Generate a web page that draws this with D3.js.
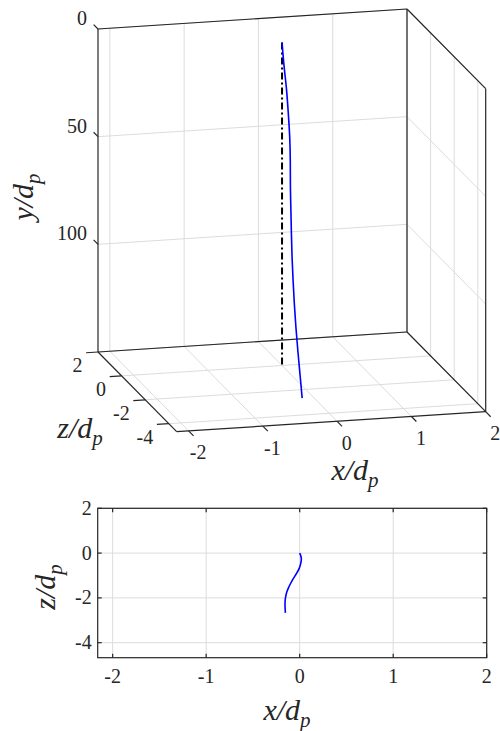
<!DOCTYPE html>
<html>
<head>
<meta charset="utf-8">
<script src="https://cdn.jsdelivr.net/npm/d3@7"></script>
<style>
  body { margin: 0; background: #fff; }
  svg { display: block; }
  .tick { font-family: "Liberation Serif", "DejaVu Serif", "Noto Serif", "FreeSerif", Times, serif; font-size: 20px; fill: #262626; }
  .axisText { font-family: "Liberation Serif", "DejaVu Serif", "Noto Serif", "FreeSerif", Times, serif; font-style: italic; font-size: 30px; fill: #262626; }
</style>
</head>
<body>
<div id="chart"></div>
<script>
// axis limits and ticks
var xLim = [-2.16, 2];
var yLim = [0, 150];
var zLim = [-4.67, 2];
var xTicks = [-2, -1, 0, 1, 2];
var yTicks = [0, 50, 100];
var yGrid = [0, 50, 100, 150];
var zTicks = [2, 0, -2, -4];

// particle trajectory
var trajY = [0, 10, 20, 30, 40, 50, 60, 70, 80, 90, 100, 110, 120, 130, 140, 150];
var trajZ = [0, -0.1, -0.26, -0.45, -0.68, -0.92, -1.15, -1.38, -1.55, -1.7, -1.85, -2.0, -2.16, -2.33, -2.5, -2.67];
var trajX = [0, 0.01, 0.018, 0.012, -0.005, -0.035, -0.07, -0.1, -0.12, -0.135, -0.145, -0.152, -0.156, -0.157, -0.155, -0.153];

// vertical reference line (dash-dot)
var refY = [0, 150];
var refX = [0, 0];
var refZ = [0, 0];

var svgWidth = 500, svgHeight = 731;
var axisColor = "#262626", gridColor = "#dcdcdc";

var svg = d3.select("#chart")
  .append("svg")
  .attr("width", svgWidth)
  .attr("height", svgHeight);

// ---------- 3D view (orthographic projection) ----------
var origin = [98, 29];       // screen point of (xMin, y=0, zMax)
var ex = [309, -20];         // full x range
var ey = [0, 323];           // full y range
var ez = [78.7, 79.7];       // zMax -> zMin

var tx = d3.scaleLinear().domain(xLim).range([0, 1]);
var ty = d3.scaleLinear().domain(yLim).range([0, 1]);
var tz = d3.scaleLinear().domain([zLim[1], zLim[0]]).range([0, 1]);

function proj(x, y, z) {
  var a = tx(x), b = ty(y), c = tz(z);
  return [origin[0] + a * ex[0] + b * ey[0] + c * ez[0],
          origin[1] + a * ex[1] + b * ey[1] + c * ez[1]];
}

var line3 = d3.line().x(d => proj(d[0], d[1], d[2])[0]).y(d => proj(d[0], d[1], d[2])[1]);

var g3 = svg.append("g");

function seg(g, p, q, color, w) {
  g.append("path")
    .attr("d", line3([p, q]))
    .attr("fill", "none")
    .attr("stroke", color)
    .attr("stroke-width", w);
}

var x0 = xLim[0], x1 = xLim[1], y0 = yLim[0], y1 = yLim[1], z0 = zLim[0], z1 = zLim[1];

// grid: back plane z = zMax
xTicks.forEach(function(x) { seg(g3, [x, y0, z1], [x, y1, z1], gridColor, 1); });
yGrid.forEach(function(y) { seg(g3, [x0, y, z1], [x1, y, z1], gridColor, 1); });
// grid: right plane x = xMax
zTicks.forEach(function(z) { seg(g3, [x1, y0, z], [x1, y1, z], gridColor, 1); });
yGrid.forEach(function(y) { seg(g3, [x1, y, z1], [x1, y, z0], gridColor, 1); });
// grid: floor y = yMax
xTicks.forEach(function(x) { seg(g3, [x, y1, z1], [x, y1, z0], gridColor, 1); });
zTicks.forEach(function(z) { seg(g3, [x0, y1, z], [x1, y1, z], gridColor, 1); });

// box edges
var edges = [
  [[x0, y0, z1], [x1, y0, z1]],
  [[x0, y0, z1], [x0, y1, z1]],
  [[x1, y0, z1], [x1, y1, z1]],
  [[x1, y0, z1], [x1, y0, z0]],
  [[x1, y0, z0], [x1, y1, z0]],
  [[x0, y1, z1], [x1, y1, z1]],
  [[x0, y1, z1], [x0, y1, z0]],
  [[x0, y1, z0], [x1, y1, z0]],
  [[x1, y1, z1], [x1, y1, z0]]
];
edges.forEach(function(e) { seg(g3, e[0], e[1], axisColor, 1.2); });

// ticks
yTicks.forEach(function(y) { seg(g3, [x0, y, z1], [x0, y, z1 + 0.37], axisColor, 1.2); });
zTicks.forEach(function(z) { seg(g3, [x0, y1, z], [x0 - 0.16, y1, z], axisColor, 1.2); });
xTicks.forEach(function(x) { seg(g3, [x, y1, z0], [x, y1, z0 - 0.42], axisColor, 1.2); });

// data
g3.append("path")
  .datum(refY.map((y, i) => [refX[i], y, refZ[i]]))
  .attr("d", line3)
  .attr("fill", "none")
  .attr("stroke", "black")
  .attr("stroke-width", 2)
  .attr("stroke-dasharray", "7,3,2,3");

g3.append("path")
  .datum(trajY.map((y, i) => [trajX[i], y, trajZ[i]]))
  .attr("d", line3.curve(d3.curveMonotoneY))
  .attr("fill", "none")
  .attr("stroke", "#0000ff")
  .attr("stroke-width", 1.6);

// tick labels
yTicks.forEach(function(y) {
  var p = proj(x0, y, z1);
  g3.append("text").attr("class", "tick")
    .attr("x", p[0] - 11).attr("y", p[1] - 4)
    .attr("text-anchor", "end")
    .text(y);
});
zTicks.forEach(function(z) {
  var p = proj(x0, y1, z);
  g3.append("text").attr("class", "tick")
    .attr("x", p[0] - 15.5).attr("y", p[1] + 20)
    .attr("text-anchor", "end")
    .text(z);
});
xTicks.forEach(function(x) {
  var p = proj(x, y1, z0);
  g3.append("text").attr("class", "tick")
    .attr("x", p[0] + 9.5).attr("y", p[1] + 28.5)
    .attr("text-anchor", "middle")
    .text(x);
});

// axis labels
function mathLabel(g, v, tr) {
  var t = g.append("text")
    .attr("class", "axisText")
    .attr("transform", tr)
    .attr("text-anchor", "middle");
  t.append("tspan").text(v + "/d");
  t.append("tspan").attr("dy", 7).attr("font-size", "21px").text("p");
  return t;
}
mathLabel(g3, "y", "translate(33,197) rotate(-90)");
mathLabel(g3, "z", "translate(80,438)");
mathLabel(g3, "x", "translate(355,480)");

// ---------- 2D view (x-z plane) ----------
var box = { left: 97.7, right: 486.7, top: 508.3, bottom: 657.7 };
var xScale = d3.scaleLinear().domain(xLim).range([box.left, box.right]);
var zScale = d3.scaleLinear().domain(zLim).range([box.bottom, box.top]);

var g2 = svg.append("g");

xTicks.forEach(function(x) {
  g2.append("line")
    .attr("x1", xScale(x)).attr("x2", xScale(x))
    .attr("y1", box.top).attr("y2", box.bottom)
    .attr("stroke", gridColor).attr("stroke-width", 1);
});
zTicks.forEach(function(z) {
  g2.append("line")
    .attr("x1", box.left).attr("x2", box.right)
    .attr("y1", zScale(z)).attr("y2", zScale(z))
    .attr("stroke", gridColor).attr("stroke-width", 1);
});

g2.append("path")
  .datum(trajZ.map((z, i) => [trajX[i], z]))
  .attr("d", d3.line().x(d => xScale(d[0])).y(d => zScale(d[1])).curve(d3.curveMonotoneY))
  .attr("fill", "none")
  .attr("stroke", "#0000ff")
  .attr("stroke-width", 1.6);

// box with inward ticks on all sides
g2.append("rect")
  .attr("x", box.left).attr("y", box.top)
  .attr("width", box.right - box.left).attr("height", box.bottom - box.top)
  .attr("fill", "none").attr("stroke", axisColor).attr("stroke-width", 1.2);

xTicks.forEach(function(x) {
  [[box.bottom, -4], [box.top, 4]].forEach(function(s) {
    g2.append("line")
      .attr("x1", xScale(x)).attr("x2", xScale(x))
      .attr("y1", s[0]).attr("y2", s[0] + s[1])
      .attr("stroke", axisColor).attr("stroke-width", 1.2);
  });
  g2.append("text").attr("class", "tick")
    .attr("x", xScale(x)).attr("y", 683)
    .attr("text-anchor", "middle")
    .text(x);
});
zTicks.forEach(function(z) {
  [[box.left, 4], [box.right, -4]].forEach(function(s) {
    g2.append("line")
      .attr("x1", s[0]).attr("x2", s[0] + s[1])
      .attr("y1", zScale(z)).attr("y2", zScale(z))
      .attr("stroke", axisColor).attr("stroke-width", 1.2);
  });
  g2.append("text").attr("class", "tick")
    .attr("x", box.left - 6).attr("y", zScale(z) + 6.5)
    .attr("text-anchor", "end")
    .text(z);
});

mathLabel(g2, "z", "translate(55,587) rotate(-90)");
mathLabel(g2, "x", "translate(287,720)");
</script>
</body>
</html>
